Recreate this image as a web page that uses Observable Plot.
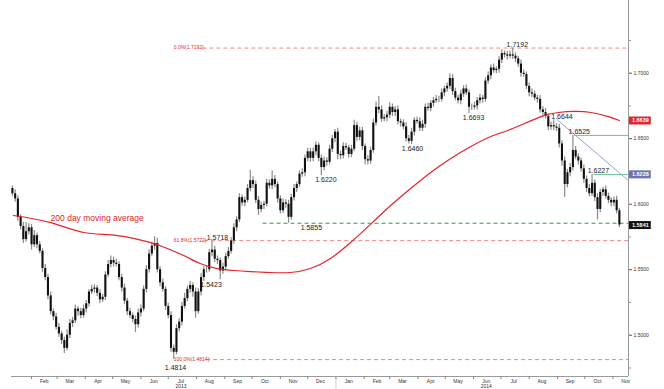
<!DOCTYPE html>
<html><head><meta charset="utf-8">
<script src="https://cdn.jsdelivr.net/npm/d3@7"></script>
<script src="https://cdn.jsdelivr.net/npm/@observablehq/plot@0.6"></script>
<style>html,body{margin:0;padding:0;background:#fff}svg{display:block}</style>
</head><body><div id="chart"></div>
<script>
// ---- data ----
const startDate = "2013-01-11";
const stepDays = 3;
const firstOpen = 1.6120;
const closes = [
1.6080,1.6040,1.5900,1.5830,1.5730,1.5790,1.5820,1.5690,1.5760,1.5690,
1.5640,1.5510,1.5440,1.5300,1.5180,1.5140,1.5060,1.5010,1.4960,1.4900,
1.5000,1.5090,1.5110,1.5200,1.5180,1.5150,1.5200,1.5240,1.5330,1.5350,
1.5360,1.5320,1.5270,1.5290,1.5460,1.5540,1.5570,1.5550,1.5540,1.5440,
1.5360,1.5260,1.5180,1.5150,1.5120,1.5080,1.5170,1.5200,1.5350,1.5500,
1.5620,1.5680,1.5700,1.5500,1.5400,1.5350,1.5220,1.5150,1.4900,1.4870,
1.5050,1.5100,1.5220,1.5280,1.5350,1.5380,1.5330,1.5180,1.5330,1.5440,
1.5500,1.5500,1.5630,1.5650,1.5580,1.5570,1.5490,1.5520,1.5600,1.5640,
1.5720,1.5820,1.5880,1.6050,1.6010,1.6030,1.6120,1.6180,1.6150,1.6030,
1.5960,1.5990,1.6000,1.6160,1.6140,1.6190,1.6150,1.6040,1.5950,1.6010,
1.6000,1.5900,1.6050,1.6120,1.6150,1.6230,1.6240,1.6350,1.6400,1.6350,
1.6400,1.6450,1.6350,1.6280,1.6330,1.6320,1.6420,1.6500,1.6550,1.6380,
1.6370,1.6440,1.6430,1.6380,1.6420,1.6600,1.6510,1.6560,1.6440,1.6340,
1.6330,1.6410,1.6620,1.6740,1.6720,1.6650,1.6660,1.6680,1.6740,1.6700,
1.6720,1.6630,1.6620,1.6590,1.6500,1.6480,1.6550,1.6640,1.6630,1.6580,
1.6610,1.6740,1.6730,1.6770,1.6790,1.6800,1.6800,1.6850,1.6880,1.6900,
1.6960,1.6860,1.6810,1.6790,1.6840,1.6880,1.6850,1.6740,1.6740,1.6750,
1.6790,1.6810,1.6800,1.6940,1.6980,1.7040,1.7020,1.7030,1.7100,1.7150,
1.7140,1.7130,1.7140,1.7130,1.7110,1.7070,1.7000,1.6990,1.6900,1.6850,
1.6840,1.6810,1.6800,1.6720,1.6700,1.6670,1.6590,1.6600,1.6590,1.6580,
1.6460,1.6330,1.6150,1.6240,1.6280,1.6410,1.6360,1.6330,1.6270,1.6190,
1.6120,1.6080,1.6160,1.6050,1.5960,1.6090,1.6110,1.6060,1.6030,1.6010,
1.6030,1.5950,1.5841];
// wick lengths above / below the candle body, in pips
const upWicks = [
20,30,25,20,30,70,30,25,40,20, 25,20,30,25,30,20,25,30,20,25,
40,30,25,30,20,25,30,25,20,30, 25,20,30,20,25,30,35,25,30,20,
25,30,20,25,20,25,30,30,25,30, 35,30,52,40,25,30,20,25,30,25,
30,25,30,40,25,30,20,30,25,30, 25,30,25,68,30,25,20,30,25,30,
25,30,25,30,20,25,30,79,30,25, 30,25,20,30,25,66,30,20,25,30,
25,30,25,30,20,25,30,25,30,25, 30,25,20,25,30,25,30,25,20,30,
25,30,25,20,30,40,25,30,25,20, 30,25,30,40,83,30,25,30,35,25,
25,30,20,25,30,25,30,20,25,30, 30,25,30,20,25,30,25,30,20,25,
36,30,25,20,30,25,30,20,25,30, 25,30,20,25,30,25,30,20,25,30,
20,25,30,52,25,20,30,25,20,25, 30,25,20,30,25,30,20,25,44,25,
30,25,30,25,30,115,30,25,20,30, 25,30,67,25,30,25,20,30,25,20,
25,30,20];
const downWicks = [
20,25,30,25,30,20,25,40,20,30, 20,30,25,30,25,30,20,25,30,40,
20,25,30,20,35,25,20,30,25,20, 30,25,30,20,25,20,25,30,20,25,
30,25,30,20,25,60,25,30,20,25, 25,20,30,25,30,20,30,25,30,56,
20,25,30,20,25,30,40,50,20,30, 30,25,20,30,25,30,67,25,30,20,
20,25,30,20,25,30,20,25,30,25, 45,25,30,20,25,30,25,30,25,20,
30,45,20,25,30,20,25,30,25,30, 25,30,25,60,25,30,20,25,30,40,
30,25,20,30,25,20,30,25,30,40, 30,25,20,25,30,25,20,30,25,30,
30,25,30,20,25,20,25,30,20,25, 25,30,20,25,30,20,25,20,30,25,
25,30,20,25,30,25,20,47,25,20, 30,25,30,20,25,30,20,25,30,25,
25,30,20,25,30,25,30,20,25,30, 25,20,30,25,30,20,30,25,30,25,
30,40,99,25,30,25,20,30,25,30, 30,25,20,30,80,25,30,20,25,30,
30,25,20];

const maDates = ["2013-01-12","2013-02-22","2013-03-30","2013-05-06","2013-06-12","2013-06-30","2013-07-18","2013-08-05","2013-08-24","2013-09-11","2013-09-29","2013-10-21","2013-11-12","2013-12-04","2013-12-26","2014-01-17","2014-02-10","2014-03-02","2014-03-24","2014-04-15","2014-05-07","2014-05-29","2014-06-20","2014-07-14","2014-08-14","2014-09-02","2014-09-19","2014-10-08","2014-10-27","2014-11-08"];
const maValues = [1.5914,1.5860,1.5784,1.5761,1.5707,1.5662,1.5608,1.5547,1.5509,1.5494,1.5486,1.5479,1.5479,1.5509,1.5586,1.5708,1.5860,1.5990,1.6120,1.6242,1.6349,1.6440,1.6517,1.6578,1.6669,1.6700,1.6708,1.6700,1.6669,1.6639];

const swingLabels = ["1.4814","1.5423","1.5718","1.5855","1.6220","1.6460","1.6693","1.7192","1.6644","1.6525","1.6227"];
const swingDates  = ["2013-07-09","2013-08-17","2013-08-24","2013-12-05","2013-12-21","2014-03-26","2014-06-01","2014-07-19","2014-09-06","2014-09-25","2014-10-16"];
const swingKinds  = ["low","low","high","low","low","low","low","high","high","high","high"];

const fibLabels = ["0.0%(1.7192)","61.8%(1.5722)","100.0%(1.4814)"];
const fibLevels = [1.7192,1.5722,1.4814];
const fibLabelDate = "2013-07-07";
const fibLineStarts = ["2013-08-08","2013-08-10","2013-08-12"];

const supportLevel = 1.5855, supportStart = "2013-10-13";
const resistLevels = [1.6525,1.6227], resistStarts = ["2014-09-20","2014-10-11"];
const trendDates = ["2014-09-01","2014-11-18"], trendValues = [1.6644,1.6180];

const boxLabels = ["1.6639","1.6228","1.5841"];
const boxLevels = [1.6639,1.6228,1.5841];
const boxColors = ["#e3262c","#6d72b2","#111111"];

const maText = "200 day moving average", maTextDate = "2013-04-14", maTextLevel = 1.5890;
const yearLabels = ["2013","2014"], yearDates = ["2013-07-15","2014-06-15"];
const yTicks = [1.5,1.55,1.6,1.65,1.7];
const yMinorTicks = [1.475,1.525,1.575,1.625,1.675,1.725];
const xDomain = ["2013-01-10","2014-11-18"];
const yDomain = [1.4685,1.7555];

// ---- build ----
const D = s => new Date(s + "T00:00:00Z");
const candles = closes.map((c, i) => {
  const o = i === 0 ? firstOpen : closes[i - 1];
  return {date: d3.utcDay.offset(D(startDate), i * stepDays), open: o, close: c,
          high: Math.max(o, c) + upWicks[i] / 1e4, low: Math.min(o, c) - downWicks[i] / 1e4};
});
const ma = maDates.map((d, i) => ({date: D(d), v: maValues[i]}));
const swings = swingLabels.map((t, i) => ({t, date: D(swingDates[i]), v: +t, kind: swingKinds[i]}));
const fibs = fibLabels.map((t, i) => ({t, v: fibLevels[i], start: D(fibLineStarts[i])}));
const xEnd = D(xDomain[1]);
const boxEnd = d3.utcDay.offset(xEnd, 25);
const boxes = boxLabels.map((t, i) => ({t, v: boxLevels[i], c: boxColors[i]}));
const monthTicks = d3.utcMonth.range(D("2013-02-01"), D("2014-12-01"));
const midMonths = d3.utcMonth.range(D("2013-02-01"), D("2014-12-01")).map(d => d3.utcDay.offset(d, 14));
const trend = trendDates.map((d, i) => ({date: D(d), v: trendValues[i]}));
const font = "Liberation Sans, Arial, sans-serif";

const chart = Plot.plot({
  width: 664, height: 389,
  marginLeft: 11, marginRight: 36, marginTop: 0, marginBottom: 13,
  style: {fontFamily: font, background: "#fff"},
  x: {type: "utc", domain: xDomain.map(D)},
  y: {domain: yDomain},
  marks: [
    // fibonacci levels
    Plot.ruleY(fibs, {y: "v", x1: "start", x2: () => xEnd, stroke: "#f08484", strokeWidth: 1, strokeDasharray: "4,3"}),
    Plot.text(fibs, {x: () => D(fibLabelDate), y: "v", text: "t", textAnchor: "start", fill: "#e02424", fontSize: 5, dy: -0.5}),
    // support / resistance
    Plot.ruleY([supportLevel], {x1: () => D(supportStart), x2: () => xEnd, stroke: "#1eaa3c", strokeWidth: 1.1, strokeDasharray: "4,3"}),
    Plot.ruleY(resistLevels.map((v, i) => ({v, s: D(resistStarts[i])})), {y: "v", x1: "s", x2: () => xEnd, stroke: "#6cc69a", strokeWidth: 1}),
    Plot.line(trend, {x: "date", y: "v", stroke: "#9ba0d2", strokeWidth: 1}),
    // candles
    Plot.ruleX(candles, {x: "date", y1: "low", y2: "high", stroke: "#8a8a8a", strokeWidth: 1.2}),
    Plot.ruleX(candles, {x: "date", y1: "open", y2: "close", stroke: "#111", strokeWidth: 2.1}),
    // moving average
    Plot.line(ma, {x: "date", y: "v", stroke: "#e8222a", strokeWidth: 1.2, curve: "natural"}),
    Plot.text([maText], {x: () => D(maTextDate), y: () => maTextLevel, text: d => d, fill: "#e02424", fontSize: 8.5}),
    // swing labels
    Plot.text(swings, {x: "date", y: "v", text: "t", fill: "#222", fontSize: 7,
      filter: d => d.kind === "high", lineAnchor: "bottom", dy: -1}),
    Plot.text(swings, {x: "date", y: "v", text: "t", fill: "#222", fontSize: 7,
      filter: d => d.kind === "low", lineAnchor: "top", dy: 2}),
    // axes frame
    Plot.ruleX([xEnd], {stroke: "#9a9a9a"}),
    Plot.ruleY([yDomain[0]], {stroke: "#9a9a9a"}),
    Plot.ruleX([D("2014-01-01")], {y1: yDomain[0], y2: yDomain[0] - 0.0105, stroke: "#cfcfcf"}),
    Plot.axisY({anchor: "right", ticks: yMinorTicks, tickSize: 2, tickFormat: () => "", stroke: "#9a9a9a"}),
    Plot.axisY({anchor: "right", ticks: yTicks, tickSize: 3, tickPadding: 2, tickFormat: d3.format(".4f"), fontSize: 5, fill: "#333", stroke: "#555"}),
    Plot.axisX({ticks: monthTicks, tickSize: 3, tickFormat: () => "", stroke: "#888"}),
    Plot.axisX({ticks: midMonths, tickSize: 0, tickPadding: 3, tickFormat: d3.utcFormat("%b"), fontSize: 5, fill: "#333"}),
    Plot.text(yearLabels, {x: (d, i) => D(yearDates[i]), y: () => yDomain[0], text: d => d, dy: 10, fontSize: 5, fill: "#333"}),
    // right-hand value boxes
    Plot.ruleY(boxes, {y: "v", x1: () => d3.utcDay.offset(xEnd, 1), x2: () => boxEnd, stroke: "c", strokeWidth: 8}),
    Plot.text(boxes, {x: () => d3.utcDay.offset(xEnd, 13), y: "v", text: "t", fill: "#fff", fontSize: 5.5, fontWeight: "bold"})
  ]
});
// nudge the lowest swing label below the fibonacci caption
d3.select(chart).selectAll("text").filter(function(){ return this.textContent === "1.4814"; })
  .attr("transform", function(){ const t = d3.select(this).attr("transform") || ""; return t + " translate(0,3)"; });
document.getElementById("chart").append(chart);
</script>
</body></html>
